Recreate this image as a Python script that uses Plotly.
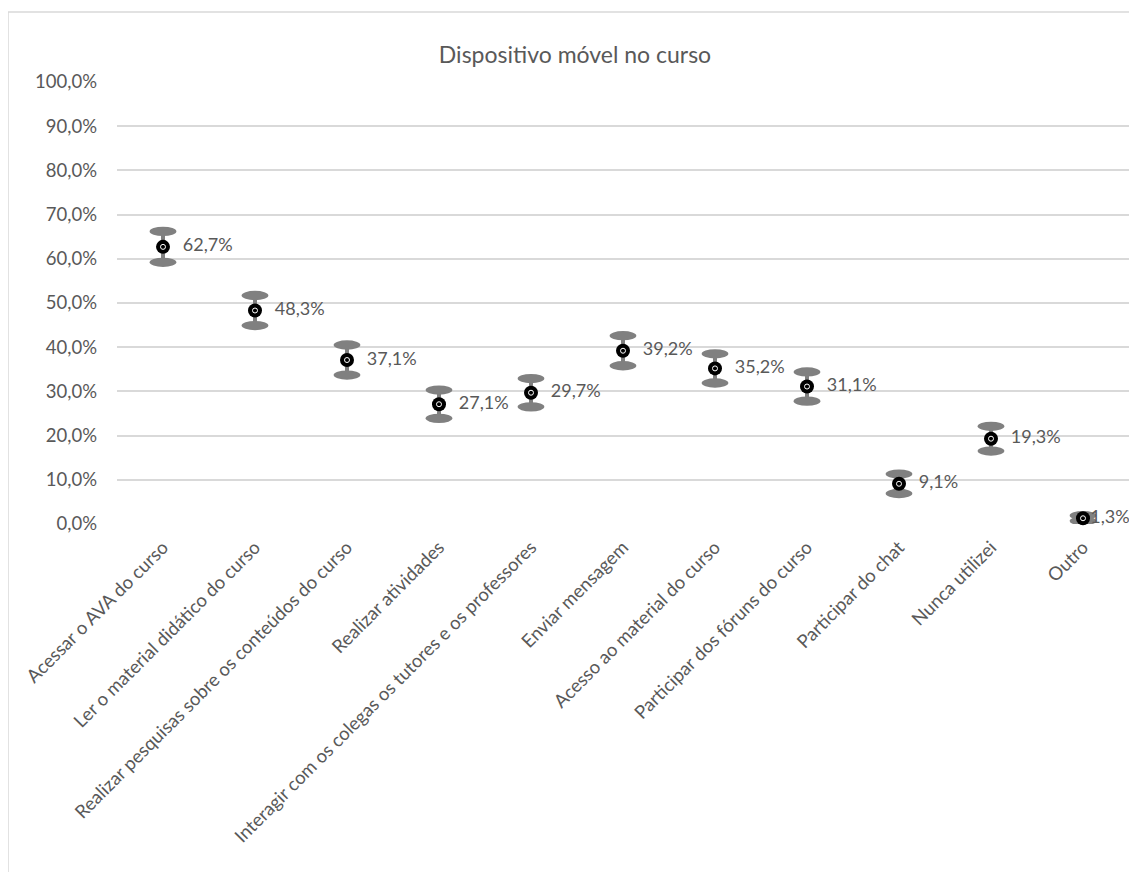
import plotly.graph_objects as go

categories = [
    "Acessar o AVA do curso",
    "Ler o material didático do curso",
    "Realizar pesquisas sobre os conteúdos do curso",
    "Realizar atividades",
    "Interagir com os colegas os tutores e os professores",
    "Enviar mensagem",
    "Acesso ao material do curso",
    "Participar dos fóruns do curso",
    "Participar do chat",
    "Nunca utilizei",
    "Outro",
]
values = [62.7, 48.3, 37.1, 27.1, 29.7, 39.2, 35.2, 31.1, 9.1, 19.3, 1.3]
errors = [3.5, 3.4, 3.4, 3.2, 3.2, 3.4, 3.3, 3.3, 2.2, 2.8, 0.6]
y_ticks = list(range(0, 101, 10))

FONT = "Lato, Open Sans, sans-serif"
TXT = "#595959"
GRID = "#d9d9d9"
GRAY = "#808080"

xs = list(range(len(categories)))

fig = go.Figure()
fig.add_trace(go.Scatter(
    x=xs, y=values, mode="markers",
    marker=dict(color="black", size=14, symbol="circle", line=dict(width=0)),
    error_y=dict(type="data", array=errors, visible=True, color=GRAY, thickness=4, width=0),
    cliponaxis=False, showlegend=False, hoverinfo="skip",
))
fig.add_trace(go.Scatter(
    x=xs, y=values, mode="markers",
    marker=dict(color="white", size=5, symbol="circle-open", line=dict(color="white", width=1)),
    showlegend=False, hoverinfo="skip", cliponaxis=False,
))
# label offsets: the last label is pulled in to stay inside the chart, as in the reference
label_gap = [30] * (len(values) - 1) + [10]
fig.add_trace(go.Scatter(
    x=xs, y=values, mode="markers+text",
    text=[f"{v:.1f}".replace(".", ",") + "%" for v in values],
    textposition="middle right",
    textfont=dict(family=FONT, size=18, color=TXT),
    marker=dict(size=label_gap, color="rgba(0,0,0,0)", opacity=0,
                line=dict(width=0, color="rgba(0,0,0,0)")),
    cliponaxis=False, showlegend=False, hoverinfo="skip",
))

shapes = []
for i, (v, e) in enumerate(zip(values, errors)):
    for yc in (v + e, v - e):
        shapes.append(dict(type="circle", xref="x", yref="y",
                           x0=i - 0.145, x1=i + 0.145, y0=yc - 1.05, y1=yc + 1.05,
                           fillcolor=GRAY, line=dict(width=0), layer="between"))

# page body has an 8px margin; reference pixel positions are shifted accordingly
OFF = 8
L, T, W, H = 117 - OFF, 82 - OFF, 1012, 442
FW, FH = 1137 - OFF, 872 - OFF
bx = (8 - OFF - L) / W
by = 1 + (T - (12 - OFF)) / H
shapes.append(dict(type="line", xref="paper", yref="paper", x0=bx, x1=bx, y0=by, y1=-2,
                   line=dict(color=GRID, width=1.5)))
shapes.append(dict(type="line", xref="paper", yref="paper", x0=bx, x1=2, y0=by, y1=by,
                   line=dict(color=GRID, width=1.5)))

fig.update_layout(
    width=FW, height=FH,
    margin=dict(l=L, r=FW - L - W, t=T, b=FH - T - H),
    paper_bgcolor="white", plot_bgcolor="white",
    separators=",.",
    title=dict(text="Dispositivo móvel no curso", x=(575 - OFF) / FW, xanchor="center",
               y=1 - (55 - OFF) / FH, yanchor="middle",
               font=dict(family=FONT, size=23, color=TXT)),
    shapes=shapes,
    xaxis=dict(range=[-0.5, 10.5], tickmode="array", tickvals=xs, ticktext=categories,
               tickangle=-45, showgrid=False, zeroline=False, showline=False,
               tickfont=dict(family=FONT, size=18.5, color=TXT), ticks="",
               ticklabelstandoff=8),
    yaxis=dict(range=[0, 100], tickmode="array", tickvals=y_ticks,
               ticktext=[f"{t:.1f}".replace(".", ",") + "%" for t in y_ticks],
               showgrid=True, gridcolor=GRID, gridwidth=1.5, zeroline=False,
               showline=False, ticks="", ticklabelstandoff=19,
               tickfont=dict(family=FONT, size=18.5, color=TXT)),
)

fig.write_html("out.html")
